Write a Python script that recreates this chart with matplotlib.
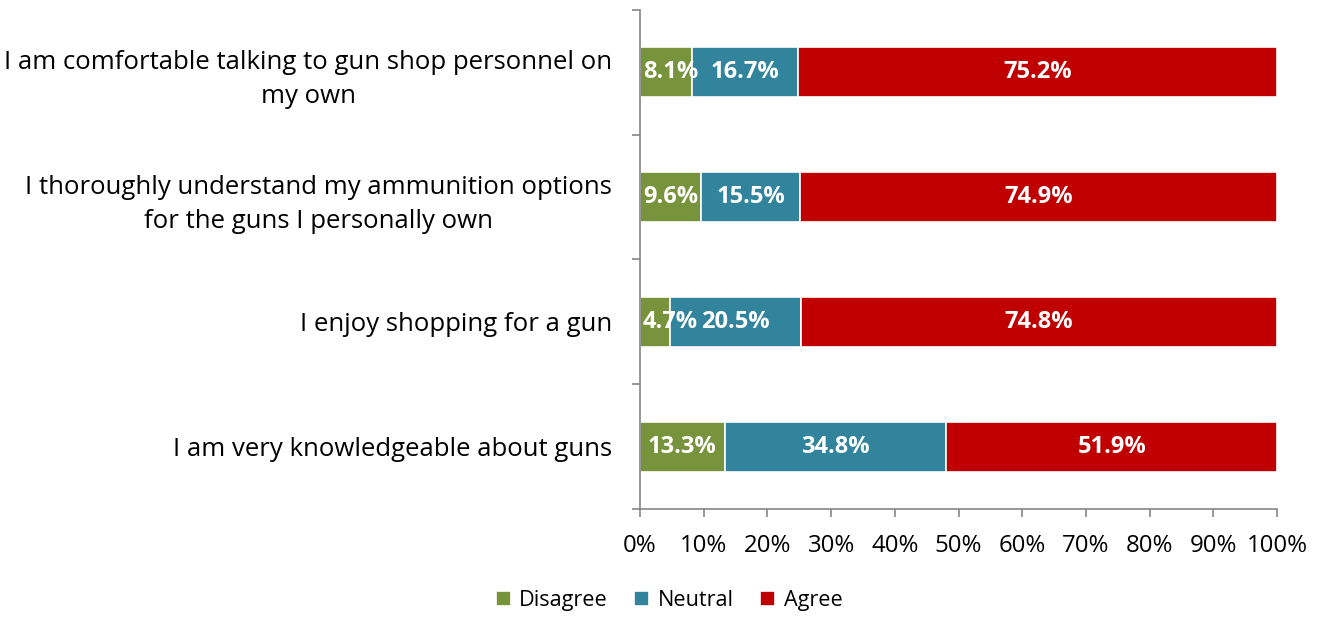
import matplotlib.pyplot as plt
import numpy as np
from matplotlib.ticker import FixedLocator, PercentFormatter
from matplotlib.transforms import ScaledTranslation

plt.rcParams['font.family'] = ['Open Sans', 'DejaVu Sans']

# 数据
statements = ['I am comfortable talking to gun shop personnel on\nmy own',
              'I thoroughly understand my ammunition options\nfor the guns I personally own',
              'I enjoy shopping for a gun',
              'I am very knowledgeable about guns']
disagree = [8.1, 9.6, 4.7, 13.3]
neutral = [16.7, 15.5, 20.5, 34.8]
agree = [75.2, 74.9, 74.8, 51.9]
series_names = ['Disagree', 'Neutral', 'Agree']
colors = ['#77933C', '#31849B', '#C00000']

fig = plt.figure(figsize=(13.17, 6.17), dpi=100)
ax = fig.add_axes([0.486, 0.175, 0.4837, 0.809])

y = np.arange(len(statements))[::-1]
left = np.zeros(len(statements))
all_bars = []
for vals, name, c in zip([disagree, neutral, agree], series_names, colors):
    vals = np.array(vals)
    bars = ax.barh(y, vals, left=left, height=0.4, color=c, edgecolor='white',
                   linewidth=1.2, label=name)
    all_bars.append((bars, vals))
    left += vals

# 标签放在最上层
rows = [[] for _ in statements]
for bars, vals in all_bars:
    for i, (b, v) in enumerate(zip(bars, vals)):
        t = ax.text(b.get_x() + b.get_width() / 2, b.get_y() + b.get_height() / 2,
                    f'{v:.1f}%', ha='center', va='center', color='white',
                    fontsize=17, fontweight='bold', zorder=5)
        rows[i].append(t)

ax.set_xlim(0, 100)
ax.set_ylim(-0.5, len(statements) - 0.5)
ax.set_xticks(np.arange(0, 101, 10))
ax.xaxis.set_major_formatter(PercentFormatter(decimals=0))
ax.set_yticks(y)
ax.set_yticklabels(statements, ha='right', multialignment='center', linespacing=1.45)
ax.yaxis.set_minor_locator(FixedLocator(np.arange(-0.5, len(statements), 1)))
ax.tick_params(axis='y', which='major', length=0, pad=20, labelsize=18.5)
ax.tick_params(axis='y', which='minor', length=6, color='#868686', width=1.2)
ax.tick_params(axis='x', length=6, color='#868686', width=1.2, labelsize=17.3, pad=12)

for s in ['top', 'right']:
    ax.spines[s].set_visible(False)
for s in ['left', 'bottom']:
    ax.spines[s].set_color('#868686')
    ax.spines[s].set_linewidth(1.2)

fig.legend(loc='center', bbox_to_anchor=(0.508, 0.027), ncol=3, frameon=False,
           fontsize=15.6, handlelength=0.7, handleheight=0.7, handletextpad=0.4,
           columnspacing=1.2)

# 避免标签出界或重叠
fig.canvas.draw()
r = fig.canvas.get_renderer()
ax_left = ax.get_window_extent(r).x0
for row in rows:
    prev_right = ax_left
    for t in row:
        bb = t.get_window_extent(r)
        shift = max(0, prev_right + 3 - bb.x0)
        if shift > 0:
            t.set_transform(t.get_transform() + ScaledTranslation(shift / fig.dpi, 0, fig.dpi_scale_trans))
        prev_right = bb.x1 + shift

fig.savefig('out.png', dpi=100)
